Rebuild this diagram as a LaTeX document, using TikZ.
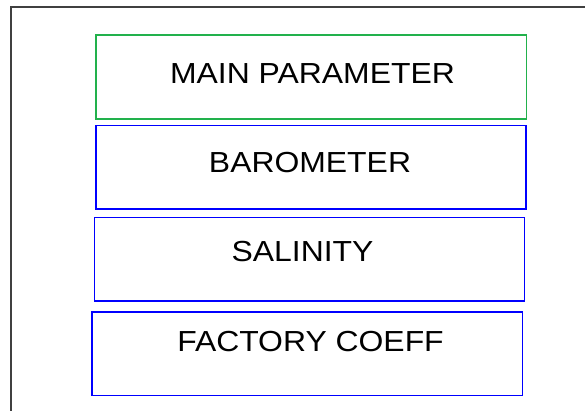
\documentclass[tikz,border=0pt]{standalone}
\usepackage{fontspec}
\setmainfont{Liberation Sans}[FakeStretch=1.1]
\definecolor{framegray}{HTML}{404040}
\definecolor{boxgreen}{HTML}{22B14C}
\definecolor{boxblue}{HTML}{0000FF}
\begin{document}
\begin{tikzpicture}[x=1pt,y=-1pt,
  box/.style={draw, line width=1.4pt, inner sep=0pt, outer sep=0pt},
  greenbox/.style={box, draw=boxgreen},
  bluebox/.style={box, draw=boxblue},
  lbl/.style={anchor=base, inner sep=0pt, font=\fontsize{29}{30}\selectfont}]
\clip (0,0) rectangle (585,411);
\fill[white] (0,0) rectangle (585,411);
\draw[framegray, line width=2pt] (11,7) rectangle (620,440);
\node[greenbox, minimum width=430.7pt, minimum height=84pt] (b1) at (311.35,77) {};
\node[bluebox, minimum width=430pt, minimum height=83.3pt] (b2) at (311,167.35) {};
\node[bluebox, minimum width=430pt, minimum height=83.3pt] (b3) at (309.3,259.35) {};
\node[bluebox, minimum width=430.3pt, minimum height=83.3pt] (b4) at (307.15,353.65) {};
\node[lbl] (t1) at (312.5,83.5) {MAIN PARAMETER};
\node[lbl] (t2) at (310,172.5) {BAROMETER};
\node[lbl] (t3) at (302.5,261) {SALINITY};
\node[lbl] (t4) at (310.5,351) {FACTORY COEFF};
\end{tikzpicture}
\end{document}
